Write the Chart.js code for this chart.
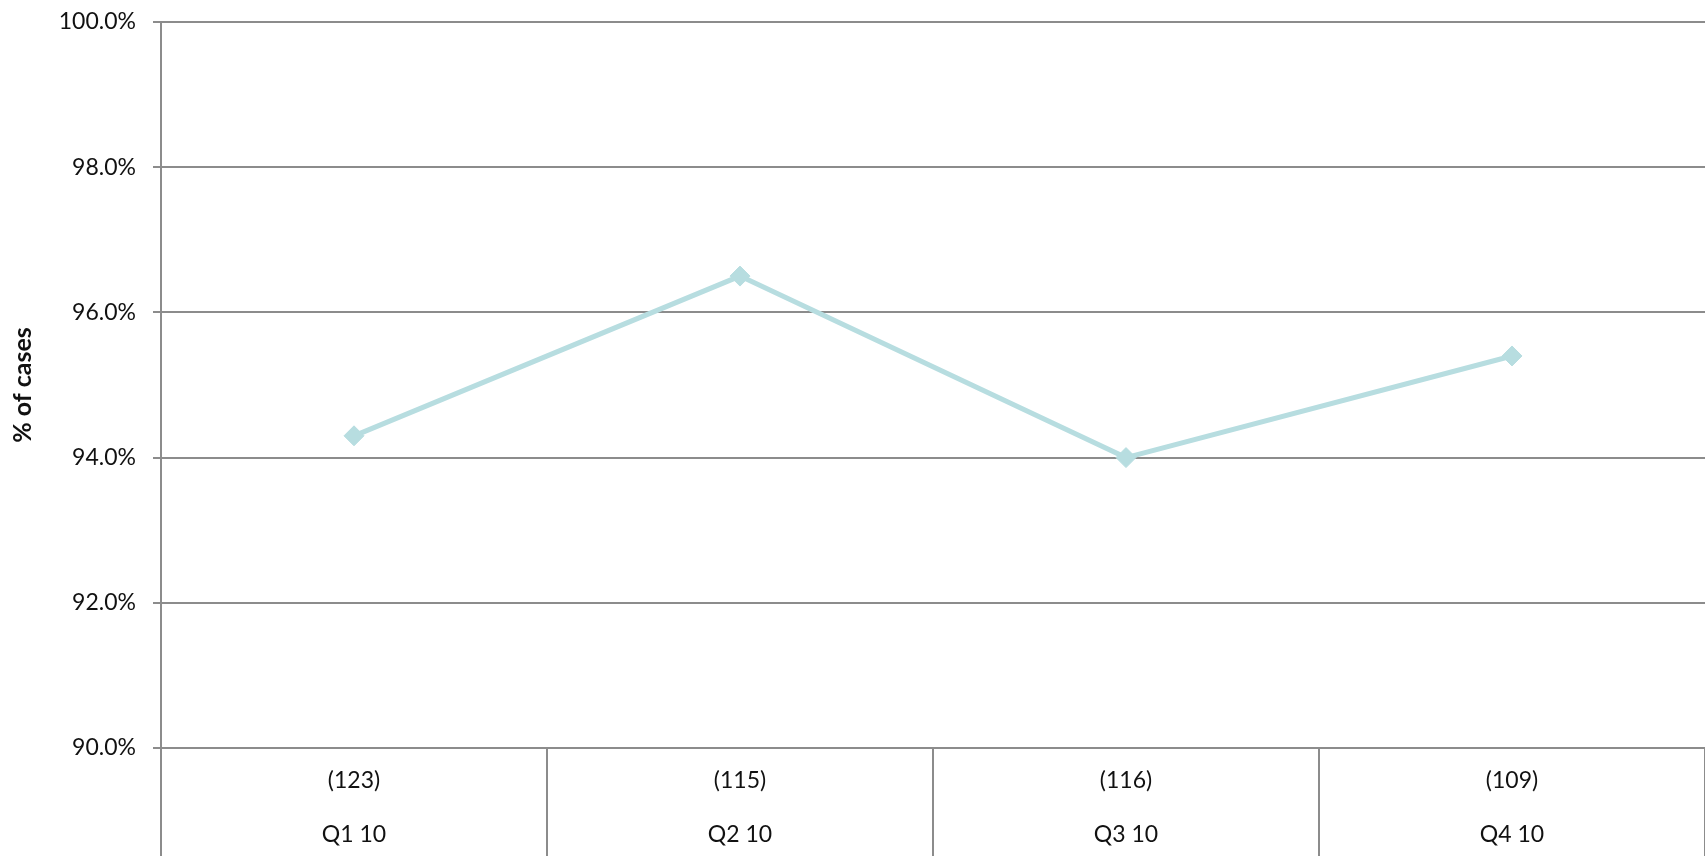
<!DOCTYPE html>
<html>
<head>
<meta charset="utf-8">
<title>% of cases by quarter</title>
<script src="https://cdn.jsdelivr.net/npm/chart.js@4.4.0/dist/chart.umd.min.js"></script>
<style>
  html, body { margin: 0; padding: 0; background: #fff; overflow: hidden; }
  /* 11px wider than the window: Chart.js keeps half a marker of room on the right,
     so the plot still reaches the window edge */
  #wrap { width: 1716px; height: 856px; position: relative; }
  #casesChart { display: block; }
</style>
</head>
<body>
<div id="wrap"><canvas id="casesChart"></canvas></div>
<script>
// quarterly share of cases, with case counts shown under each quarter
const quarters = ['Q1 10', 'Q2 10', 'Q3 10', 'Q4 10'];
const caseCounts = [123, 115, 116, 109];
const pctCases = [94.3, 96.5, 94.0, 95.4];

const yTicks = { min: 90, max: 100, step: 2 };

const gridGrey = '#8c8c8c';
const lineTeal = '#b7dde0';
const fontFamily = 'Lato, "Open Sans", sans-serif';

const labels = quarters.map((q, i) => ['(' + caseCounts[i] + ')', q]);

const ctx = document.getElementById('casesChart').getContext('2d');

new Chart(ctx, {
    type: 'line',
    data: {
        labels: labels,
        datasets: [{
            label: '% of cases',
            data: pctCases,
            borderColor: lineTeal,
            backgroundColor: lineTeal,
            borderWidth: 5,
            pointStyle: 'rectRot',
            pointRadius: 10,
            pointBorderWidth: 1,
            pointBackgroundColor: lineTeal,
            pointBorderColor: lineTeal,
            tension: 0,
            fill: false
        }]
    },
    options: {
        responsive: true,
        maintainAspectRatio: false,
        animation: false,
        layout: { padding: { top: 22, right: 0, bottom: 0, left: 0 } },
        plugins: {
            legend: { display: false },
            title: { display: false },
            tooltip: { enabled: false }
        },
        scales: {
            x: {
                offset: true,
                border: { display: true, color: gridGrey, width: 2 },
                grid: {
                    offset: true,
                    drawOnChartArea: false,
                    drawTicks: true,
                    tickLength: 108,
                    color: gridGrey,
                    lineWidth: 2
                },
                ticks: {
                    color: '#111',
                    padding: -102,
                    maxRotation: 0,
                    autoSkip: false,
                    font: { family: fontFamily, size: 23, lineHeight: '54px' }
                },
                // fixed band under the plot with the quarter dividers
                afterFit: (axis) => {
                    axis.height = 108;
                    axis.paddingLeft = 0;
                    axis.paddingRight = 0;
                }
            },
            y: {
                min: yTicks.min,
                max: yTicks.max,
                border: { display: true, color: gridGrey, width: 2 },
                grid: {
                    color: gridGrey,
                    lineWidth: 2,
                    drawTicks: true,
                    tickLength: 8
                },
                ticks: {
                    stepSize: yTicks.step,
                    color: '#111',
                    padding: 17,
                    font: { family: fontFamily, size: 23 },
                    callback: (v) => v.toFixed(1) + '%'
                },
                title: {
                    display: true,
                    text: '% of cases',
                    color: '#111',
                    padding: { top: 8, bottom: 0 },
                    font: { family: fontFamily, size: 25, weight: 'bold', lineHeight: 1.2 }
                },
                afterFit: (axis) => {
                    axis.width = 161;
                    axis.paddingTop = 0;
                    axis.paddingBottom = 0;
                }
            }
        }
    }
});
</script>
</body>
</html>
